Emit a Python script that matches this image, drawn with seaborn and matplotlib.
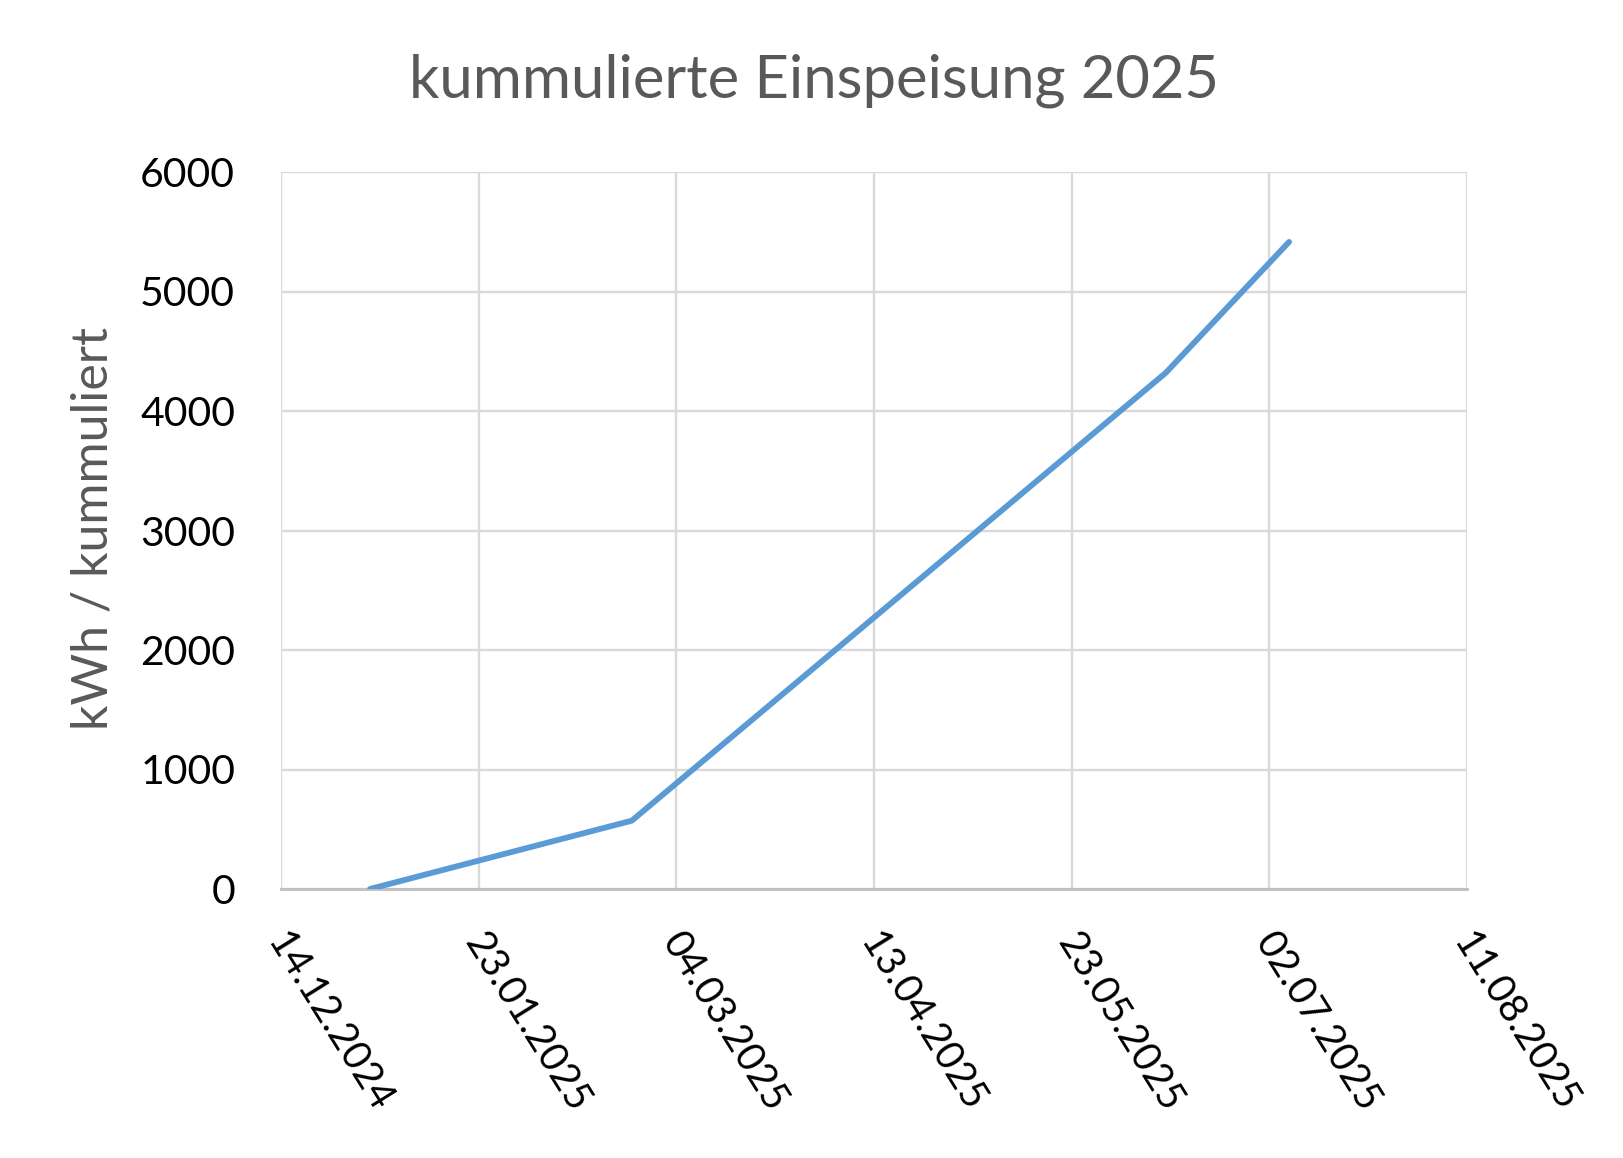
import matplotlib
matplotlib.use("Agg")
import matplotlib.pyplot as plt
import matplotlib.dates as mdates
import matplotlib.transforms as mtransforms
import seaborn as sns
import pandas as pd

# Data
dates = ["2025-01-01", "2025-02-23", "2025-06-11", "2025-07-06"]
values = [0, 572, 4318, 5415]
x_tick_start = "2024-12-14"
x_tick_count = 7
x_tick_step_days = 40
y_ticks = [0, 1000, 2000, 3000, 4000, 5000, 6000]
title = "kummulierte Einspeisung 2025"
ylabel = "kWh / kummuliert"

df = pd.DataFrame({"Datum": pd.to_datetime(dates), "kWh": values})

sns.set_theme(style="white")
plt.rcParams["font.family"] = ["Lato", "DejaVu Sans"]

W, H = 1623, 1158
fig = plt.figure(figsize=(W / 100, H / 100), dpi=100)
ax = fig.add_axes([281 / W, 1 - 889 / H, (1467 - 281) / W, (889 - 172) / H])

sns.lineplot(data=df, x="Datum", y="kWh", ax=ax, color="#5B9BD5",
             linewidth=4.2, solid_capstyle="round", solid_joinstyle="round", zorder=3)

xticks = pd.date_range(x_tick_start, periods=x_tick_count, freq=f"{x_tick_step_days}D")
ax.set_xlim(xticks[0], xticks[-1])
ax.set_xticks(xticks)
ax.xaxis.set_major_formatter(mdates.DateFormatter("%d.%m.%Y"))
ax.set_ylim(y_ticks[0], y_ticks[-1])
ax.set_yticks(y_ticks)

ax.grid(True, color="#D9D9D9", linewidth=1.7, zorder=0)
for s in ["top", "right", "left"]:
    ax.spines[s].set_visible(False)
ax.spines["bottom"].set_color("#BFBFBF")
ax.spines["bottom"].set_linewidth(2.0)
ax.spines["bottom"].set_zorder(2)

ax.set_xlabel("")
ax.set_ylabel("")
ax.tick_params(axis="y", length=0, pad=33, labelsize=29.5, labelcolor="black")
ax.tick_params(axis="x", length=0, pad=34, labelsize=28.5, labelcolor="black")
offset = mtransforms.ScaledTranslation(-6 / 100, 0, fig.dpi_scale_trans)
for lab in ax.get_xticklabels():
    lab.set_rotation(-58)
    lab.set_rotation_mode("anchor")
    lab.set_ha("left")
    lab.set_va("center")
    lab.set_transform(lab.get_transform() + offset)

fig.text(814 / W, 1 - 97 / H, title, ha="center", va="baseline",
         fontsize=43, color="#595959")
fig.text(94 / W, 1 - 528 / H, ylabel, ha="center", va="center", rotation=90,
         fontsize=36, color="#595959")

fig.savefig("out.png", dpi=100, facecolor="white")
